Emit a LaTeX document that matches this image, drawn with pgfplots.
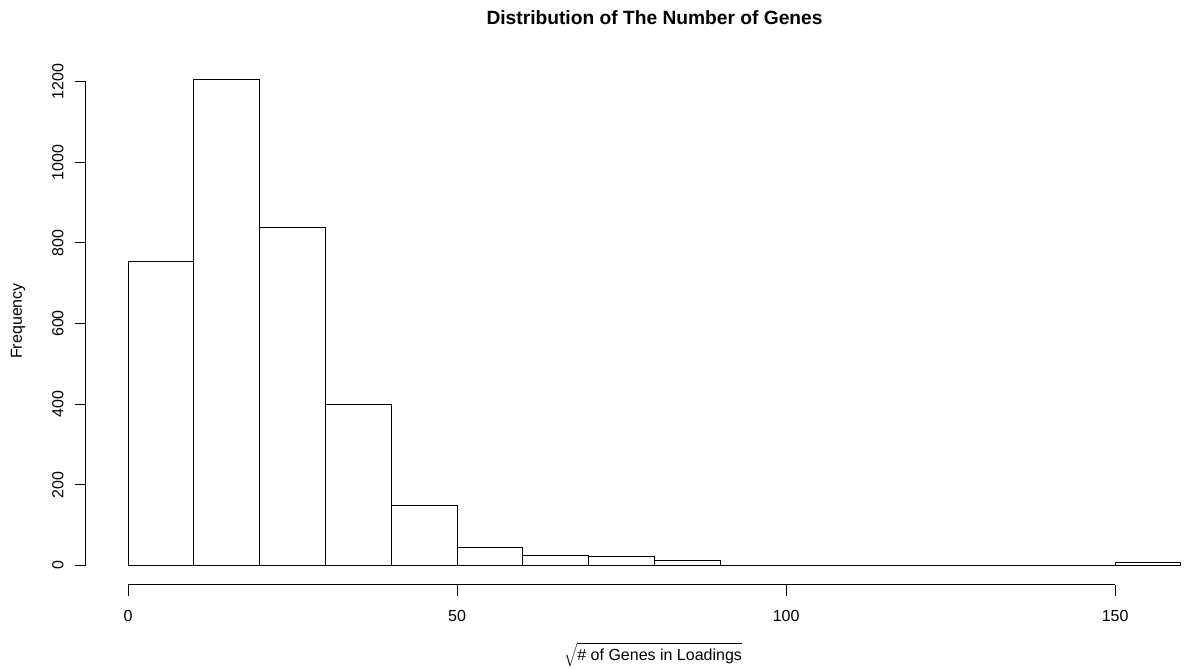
\documentclass[border=0pt]{standalone}
\usepackage{pgfplots}
\pgfplotsset{compat=1.18}
\usepackage{fontspec}
\setmainfont{Liberation Sans}
\begin{document}
\begin{tikzpicture}
\path[use as bounding box] (-64.5pt,-63.75pt) rectangle (824.25pt,438.75pt);
\begin{axis}[
  at={(0pt,0pt)}, anchor=south west,
  scale only axis, width=824.2pt, height=394.3pt,
  xmin=-6.4, xmax=160.6, ymin=-48.3, ymax=1255.3,
  axis x line*=bottom, axis y line*=left,
  x axis line style={draw=none}, y axis line style={draw=none},
  xtick={0,50,100,150}, ytick={0,200,400,600,800,1000,1200},
  tick align=outside, major tick length=8.25pt,
  tick style={black, line width=0.75pt},
  minor tick num=0,
  /pgf/number format/assume math mode=true,
  /pgf/number format/1000 sep={},
  ticklabel style={font=\fontsize{12}{14}\selectfont},
  xticklabel style={yshift=-7.5pt},
  yticklabel style={rotate=90, anchor=south, xshift=0pt, yshift=5pt},
  clip=false,
]
\addplot[ybar interval, fill=white, draw=black, line width=0.75pt] coordinates {
  (0,754) (10,1206) (20,838) (30,399) (40,149) (50,45) (60,25) (70,22) (80,13)
  (90,0) (100,0) (110,0) (120,0) (130,0) (140,0) (150,8) (160,0)
};
\draw[black, line width=0.75pt] (axis cs:0,-48.3) -- (axis cs:150,-48.3);
\draw[black, line width=0.75pt] (axis cs:-6.4,0) -- (axis cs:-6.4,1200);
\end{axis}
\node[font=\fontsize{14.4}{17}\selectfont\bfseries] at (426.4pt,425.25pt) {Distribution of The Number of Genes};
\node[font=\fontsize{12}{14}\selectfont] at (425.25pt,-52.5pt) {$\sqrt{\mbox{\# of Genes in Loadings}}$};
\node[font=\fontsize{12}{14}\selectfont, rotate=90] at (-51pt,198pt) {Frequency};
\end{tikzpicture}
\end{document}
